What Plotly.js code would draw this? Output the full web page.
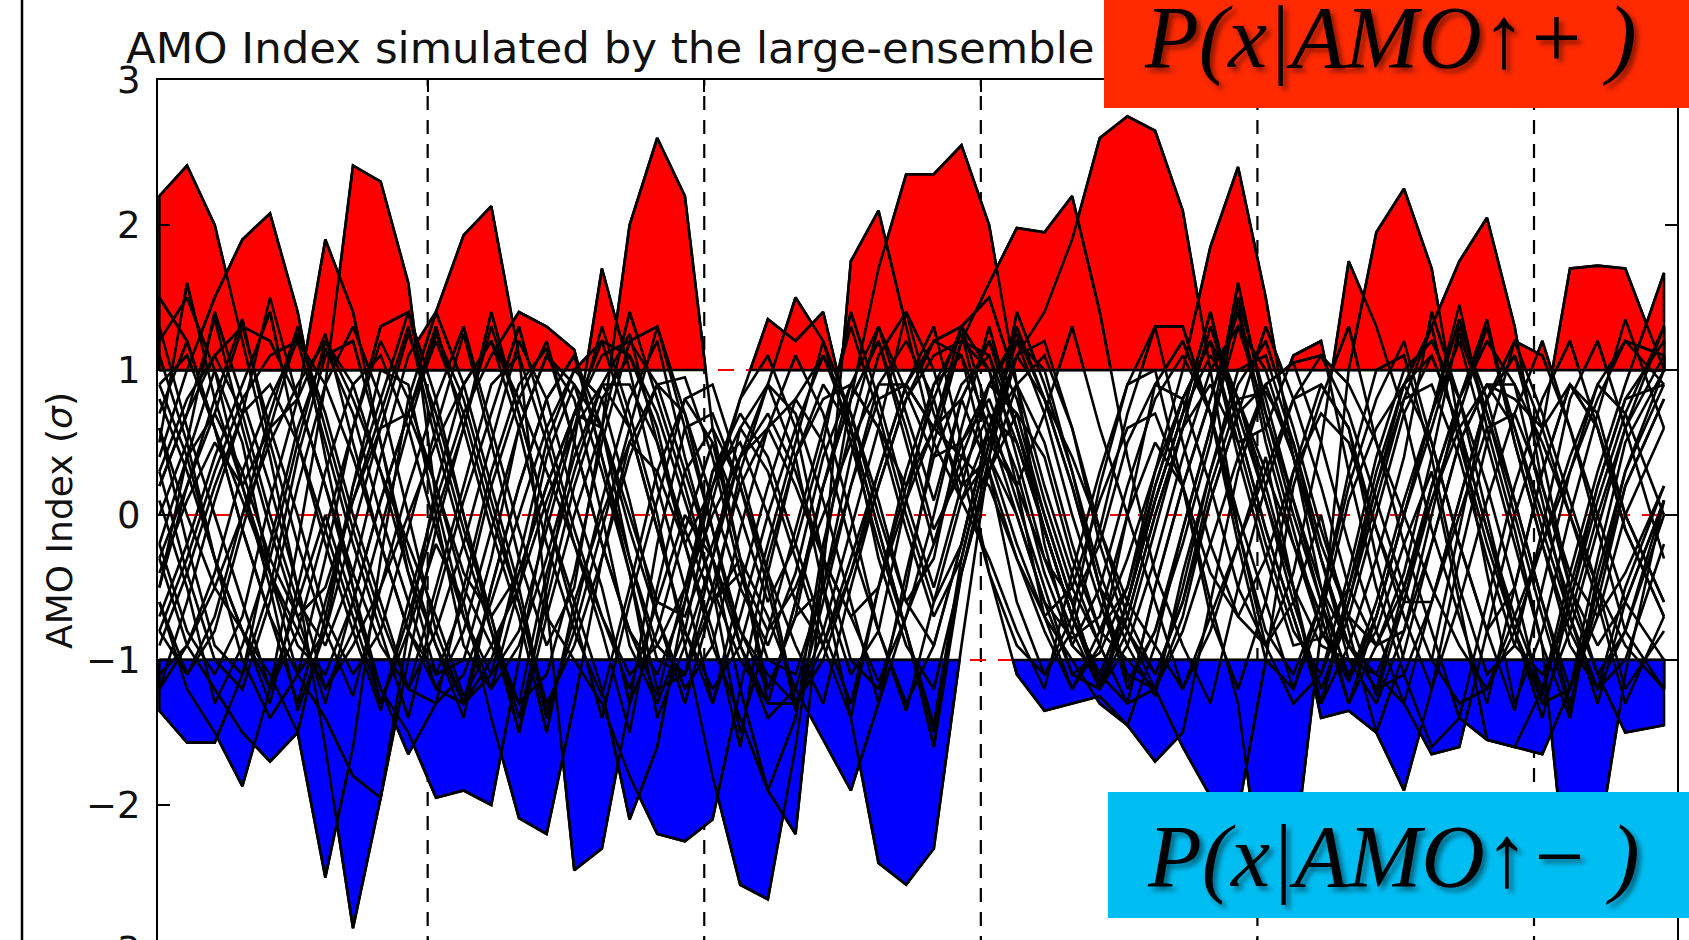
<!DOCTYPE html>
<html>
<head>
<meta charset="utf-8">
<script src="https://cdn.plot.ly/plotly-3.0.1.min.js"></script>
<style>
html,body{margin:0;padding:0;overflow:hidden;background:#fff;}
#wrap{width:1689px;height:940px;overflow:hidden;position:relative;}
#chart{width:1689px;height:1000px;}
</style>
</head>
<body>
<div id="wrap"><div id="chart"></div></div>
<script>
// Model years (x) and the ensemble members' AMO index (sigma units)
const years = [3,13,23,33,43,53,63,73,83,93,103,113,123,133,143,153,163,173,183,193,203,213,223,233,243,253,263,273,283,293,303,313,323,333,343,353,363,373,383,393,403,413,423,433,443,453,463,473,483,493,503,513,523,533,547];

const m01 = [2.2,2.41,2.0,1.2,0.4, -0.5,-1.6,-2.85,-1.95,-0.8, 0.2,0.9,1.2,0.6,-0.2, -0.8,-1.25,-0.5,0.3,0.8, 0.5,-0.3,-1.3,-0.6,0.2, 0.9,1.3,0.85,0.4,0.5, 0.8,0.3,-0.4,-0.9,-0.5, 0.2,0.8,1.1,0.7,0.0, -0.6,-1.2,-0.7,0.1,0.6, 0.9,0.5,-0.2,-0.8,-0.5, 0.3,0.9,0.6,-0.1,-0.7];
const m02 = [-0.6,-1.2,-1.5,-1.87,-1.2, -0.2,0.9,2.41,2.3,1.6, 0.1,-0.7,-1.2,-0.9,-0.3, 0.4,0.9,0.6,-0.1,-0.8, -1.2,-0.9,-0.2,0.5,1.2, 0.7,0.1,-0.6,-0.9,-0.2, 0.6,1.1,0.8,0.2,-0.5, -0.8,-1.2,-0.7,0.1,0.7, 0.9,0.4,-0.3,-0.9,-1.1, -0.6,0.2,0.8,1.35,0.5, -0.2,-0.9,-1.2,-0.8,0.0];
const m03 = [0.3,0.8,1.1,0.7,0.0, -0.6,-0.9,-0.4,0.4,1.1, 1.4,1.93,2.13,1.1,-0.6, -2.45,-2.3,-1.3,-0.2,0.6, 0.7,0.2,-0.5,-1.35,-0.6, 0.2,0.9,1.2,0.8,0.1, -0.3,-0.8,-1.2,-0.4,0.3, 0.9,1.3,0.5,-0.2,-0.7, -0.9,-0.4,0.5,1.75,1.3, 0.7,-0.1,-0.7,-1.3,-0.5, 0.3,0.9,0.7,0.0,-0.6];
const m04 = [-0.3,0.2,0.7,1.3,0.6, 0.0,-0.7,-1.1,-0.8,-0.1, 0.6,1.25,0.5,-0.3,-0.9, -0.5,0.6,2.0,2.6,2.2, 0.6,-0.3,-1.2,-0.7,-0.5, -1.4,-2.4,-2.55,-2.3,-0.9, 0.4,1.1,1.2,0.6,-0.2, -0.8,-1.1,-0.6,0.2,0.8, 0.85,0.5,-0.2,-0.7,-0.9, -0.4,0.4,1.3,0.8,0.1, -0.6,-1.3,-0.6,0.2,0.8];
const m05 = [0.9,0.4,-0.3,-0.8,-1.3, -0.5,0.3,0.9,1.1,0.6, -0.1,-0.7,-1.1,-0.8,-0.1, 0.6,1.3,0.7,0.0,-0.9, -1.8,-2.55,-2.65,-1.6,-0.3, 0.8,1.7,2.35,2.35,2.55, 2.0,0.9,-0.2,-0.9,-1.1, -0.6,0.2,0.8,1.2,0.4, -0.3,-0.9,-0.85,-0.5,0.3, 0.9,1.1,0.6,-0.1,-0.7, -1.2,-0.6,0.2,0.8,1.2];
const m06 = [-1.2,-0.6,0.1,0.7,1.5, 0.8,0.2,-0.5,-1.3,-0.8, -0.2,-0.6,-1.4,-2.09,-2.2, -1.3,-0.3,0.5,0.9,0.7, 0.1,-0.5,-0.9,-0.4,0.4, 0.9,0.6,-0.1,-0.7,-0.3, 0.5,1.1,1.4,1.9,2.6, 2.75,2.65,2.1,1.0,-0.1, -0.8,-1.1,-0.6,0.2,0.8, 1.2,0.5,-0.2,-0.8,-1.35, -0.5,0.3,0.9,0.7,0.0];
const m07 = [0.5,1.6,0.8,0.2,-0.5, -1.35,-0.8,-0.1,0.6,1.25, 0.7,0.0,-0.7,-1.4,-0.6, 0.2,0.8,1.1,0.6,-0.2, -0.8,-1.6,-0.4,0.4,0.9, 0.6,-0.1,-0.8,-1.5,-0.4, 0.3,0.7,0.4,-0.3,-0.8, -0.5,0.3,1.0,1.85,2.4, 1.5,0.4,-0.5,-1.15,-0.7, 0.0,0.7,1.45,0.6,-0.1, -0.9,-2.75,-2.3,-1.1,0.1];
const m08 = [-0.8,-1.1,-0.7,0.0,0.7, 1.3,0.6,-0.1,-0.7,-1.2, -0.5,0.2,0.9,1.1,0.5, -0.2,-0.8,-1.5,-0.5,0.3, 0.6,0.2,-0.4,-1.3,-0.8, -0.1,0.6,1.4,0.7,0.2, 0.4,0.0,-0.6,-0.85,-0.7, 0.0,0.5,0.2,-0.6,-1.3, -2.75,-2.4,-0.8,1.0,1.95, 2.25,1.7,0.6,-0.4,-1.3, -0.8,0.0,0.7,1.35,0.6];
const m09 = [0.1,-0.5,-1.3,-0.9,-0.3, 0.5,1.2,0.9,0.3,-0.4, -0.9,-1.4,-0.5,0.2,0.8, 1.1,0.4,-0.3,-0.9,-1.1, -0.6,0.3,0.9,1.5,1.2, 0.5,-0.2,-0.8,-1.6,-0.4, 0.3,0.9,1.1,0.6,-0.1, -0.7,-1.1,-0.6,0.1,0.7, 1.3,0.8,0.2,-0.5,-0.9, -0.8,-0.2,0.5,0.9,0.8, 0.6,1.7,1.72,1.7,1.0];
const m10 = [-1.35,-1.57,-1.57,-1.1,-0.2, 0.6,1.15,0.7,0.0,-0.6, -1.2,-0.8,-0.1,0.6,1.1, 0.9,0.3,-0.4,-1.4,-0.9, -0.3,0.4,0.9,0.7,0.1, -0.6,-1.3,-0.7,0.0,0.8, 1.2,0.6,-0.1,-0.7,-1.15, -0.7,0.0,0.6,0.9,0.5, -0.2,-0.8,-1.1,-0.6,0.2, 0.9,1.3,1.75,2.05,1.3, 0.2,-0.5,-0.9,-0.6,0.1];
const m11 = [0.4,1.0,1.5,1.9,2.08, 1.4,0.4,-0.5,-1.2,-1.5, -1.95,-1.9,-2.0,-1.0,0.0, 0.7,1.2,0.6,-0.1,-0.8, -1.3,-0.5,0.2,0.8,1.1, 0.6,-0.1,-0.8,-1.45,-0.3, 0.5,1.3,0.8,0.2,-0.5, -1.2,-0.8,-0.2,0.5,1.5, 0.8,0.1,-0.6,-1.1,-0.7, 0.0,0.7,1.2,0.5,-0.2, -0.9,-1.4,-0.4,0.3,0.9];
const m12 = [-0.5,0.2,0.8,1.35,0.5, -0.2,-0.8,-1.25,-0.5,0.2, 0.8,1.3,0.6,-0.1,-0.7, -1.0,-1.3,-1.8,-2.2,-2.25, -2.1,-1.2,-0.3,0.4,0.8, 0.9,0.6,0.2,0.6,1.2, 1.6,1.98,1.95,2.2,1.4, 0.4,-0.4,-0.9,-1.3,-0.5, 0.2,0.8,0.9,0.6,-0.1, -0.7,-1.2,-0.6,0.1,0.7, 1.2,0.6,-0.1,-0.8,-1.2];
const m13 = [1.3,0.6,0.0,-0.6,-1.2, -0.8,-0.1,0.6,1.2,0.8, 0.2,-0.5,-0.9,-1.3,-0.4, 0.3,0.9,1.25,0.5,-0.2, -0.9,-1.4,-1.9,-2.2,-0.4, 1.75,2.1,1.3,0.5,0.1, 0.4,-0.2,-0.7,-1.0,-1.3, -1.45,-1.7,-1.5,-0.6,0.3, 0.9,1.05,0.5,-0.2,-0.8, -1.3,-0.6,0.1,0.8,1.1, 0.6,0.0,-0.6,-1.3,-0.7];
const m14 = [-0.2,-0.8,-1.1,-0.7,0.1, 0.8,1.25,0.5,-0.2,-0.8, -1.1,-0.6,0.2,0.8,1.2, 0.5,-0.2,-0.8,-1.1,-0.6, 0.2,0.6,0.3,-0.3,-0.9, -1.4,-0.5,0.2,0.8,1.3, 0.7,0.1,-0.5,-1.1,-0.95, -0.5,0.2,0.8,1.2,0.5, 0.6,1.1,1.2,0.3,-0.5, -1.1,-1.6,-1.4,-1.55,-1.6, -1.2,-0.4,0.3,0.9,1.67];
const m15 = [0.6,0.0,-0.5,-0.8,-1.1, -1.5,-2.5,-1.6,-0.3,0.8, 1.4,0.9,0.2,-0.5,-1.35, -0.8,-0.1,0.6,1.3,0.6, -0.1,-0.8,-1.2,-0.7,0.2, 0.8,1.2,0.6,-0.1,0.3, 0.7,0.5,-0.1,-0.7,-1.2, -0.6,0.1,0.7,1.4,0.6, -0.1,-0.7,-1.3,-0.5,0.2, 0.8,0.9,0.4,-0.3,-0.9, -1.1,-0.7,0.0,0.6,1.3];
const m16 = [-0.7,-0.2,0.4,0.9,1.4, 0.5,-0.2,-0.8,-1.35,-0.6, 0.1,0.7,1.1,1.4,1.3, 1.14,0.4,-0.4,-1.2,-1.1, -0.5,0.2,0.6,0.8,0.5, -0.2,-0.8,-1.35,-0.6,0.1, 0.6,0.2,-0.3,-0.6,-0.2, 0.5,0.9,0.8,0.2,-0.5, -0.9,-0.6,0.0,-0.8,-1.5, -1.9,-1.2,-0.3,0.5,1.2, 0.7,0.1,-0.5,-1.2,-0.8];
const m17 = [0.2,0.7,1.35,0.6,-0.1, -0.7,-1.3,-0.6,0.1,0.7, 1.3,0.6,-0.1,-0.7,-1.5, -0.6,0.0,0.5,0.3,-0.2, 0.2,0.8,1.35,1.2,1.4, 0.6,-0.3,-0.9,-1.2,-0.4, 0.4,1.4,0.9,0.3,-0.4, -0.9,-1.25,-0.4,0.3,0.9, 1.2,0.6,-0.1,-0.7,-1.25, -0.6,0.1,0.7,1.3,0.5, -0.2,-0.8,-1.2,-0.5,0.2];
const m18 = [-0.4,0.1,0.5,0.2,0.6, 0.8,1.9,1.4,0.5,-0.3, -0.9,-1.3,-0.5,0.2,0.8, 1.1,0.6,-0.1,-0.7,-1.3, -0.6,-0.3,-0.7,-1.2,-1.55, -1.9,-1.3,-0.4,0.4,0.9, 1.1,0.6,0.0,-0.6,-1.2, -0.7,0.0,0.6,1.3,0.7, 0.1,-0.5,-0.9,-1.0,-1.1, -1.3,-1.65,-1.6,-0.8,0.0, 0.6,0.9,0.6,0.0,-0.6];
const m19 = [1.2,1.5,1.0,0.2,-0.4, -0.9,-1.1,-0.6,0.1,0.7, 1.2,0.7,0.0,-0.6,-1.3, -0.9,-0.3,0.4,0.9,0.95, 0.4,-0.4,-1.0,-1.1,-0.5, 0.2,0.8,0.9,0.6,1.3, 1.5,0.9,0.2,-0.4,-0.9, -1.3,-0.5,0.2,0.8,1.45, 0.6,-0.1,-0.8,-1.1,-0.8, -0.2,0.3,-0.6,-1.55,-1.6, -1.65,-1.2,-0.3,0.5,1.0];
const m20 = [-0.3,-0.9,-1.2,-1.5,-1.7, -1.5,-0.7,0.2,0.8,1.4, 0.6,-0.1,-0.7,-1.5,-0.7, 0.0,0.6,1.4,0.8,0.2, -0.5,-1.5,-0.8,-0.1,0.6, 1.3,0.7,0.0,-0.6,-0.2, 0.6,0.9,0.5,-0.2,-0.8, -1.0,-1.2,-1.6,-1.94,-2.05, -1.0,0.2,0.8,1.3,0.5, -0.2,-0.8,-1.4,-0.6,0.2, 0.8,1.2,0.6,-0.1,-0.7];
const m21 = [0.8,0.3,-0.3,-0.8,-1.2, -0.6,0.0,-0.6,-1.2,-1.65, -1.3,-0.5,0.3,0.9,1.15, 0.5,-0.2,-0.8,-1.25,-0.5, 0.3,0.7,0.4,-0.2,-0.8, -1.3,-0.5,0.3,0.9,1.25, 0.5,0.2,0.7,1.3,0.6, 0.0,-0.6,-1.2,-0.8,-0.2, 0.4,-0.5,-1.4,-1.35,-1.5, -0.95,-0.2,0.5,0.9,0.6, 0.0,-0.6,-1.1,-1.5,-1.45];
const m22 = [-0.9,-0.4,0.2,0.7,0.9, 0.5,-0.1,-0.7,-1.3,-0.7, 0.0,0.6,1.3,0.7,0.0, -0.6,-1.2,-2.1,-1.6,-0.6, 0.3,0.5,0.0,-0.6,-0.9, -0.4,0.3,0.9,1.3,0.5, -0.4,-1.1,-1.35,-1.3,-1.25, -1.45,-0.9,-0.1,0.6,1.3, 0.7,0.1,-0.5,-0.9,-1.2, -0.5,0.2,0.8,1.3,0.6, -0.1,-0.7,-1.3,-0.6,0.1];
const m23 = [1.5,1.2,0.6,-0.1,-0.7, -1.1,-1.4,-1.8,-1.95,-1.0, -0.1,0.6,1.4,0.7,0.0, -0.7,-1.4,-0.6,0.1,0.8, 0.9,0.3,-0.4,-0.9,-1.3, -0.5,0.2,0.8,1.1,1.2, 1.1,0.4,-0.3,-0.8,-1.2, -0.6,0.1,0.7,1.1,0.8, 0.2,-0.5,-1.3,-0.9,-0.3, 0.4,1.4,0.8,0.2,-0.5, -1.3,-0.8,-0.1,0.6,1.1];
const m24 = [-1.2,-0.9,-0.4,0.3,0.8, 1.2,0.5,-0.2,-0.8,-1.4, -0.6,0.1,0.7,1.3,0.6, -0.1,-0.7,-1.2,-0.6,0.0, -0.3,-1.2,-1.9,-1.4,-0.2, 0.6,1.3,0.7,0.1,0.8, 1.2,0.8,0.1,-0.5,-0.9, -1.3,-0.5,0.2,0.8,1.4, 0.5,-0.2,-0.8,-1.15,-0.6, 0.1,0.7,1.35,0.7,0.0, -0.7,-1.35,-0.5,0.2,0.8];
const m25 = [0.0,0.5,1.4,0.8,0.2, -0.5,-1.2,-0.8,-0.1,0.6, 1.25,0.8,0.1,-0.6,-1.4, -0.7,0.1,0.8,1.2,0.4, -0.3,-0.9,-1.3,-0.6,0.2, 0.8,1.2,0.5,-0.2,0.5, 0.9,0.7,0.0,-0.6,-1.2, -0.8,-0.1,0.6,1.3,0.8, 0.1,-0.6,-1.2,-0.7,0.0, 0.7,1.1,0.6,-0.1,-0.8, -1.25,-0.5,0.2,0.8,0.9];
const m26 = [-0.6,-1.1,-0.8,-0.1,0.6, 1.25,0.7,0.0,-0.6,-1.2, -0.8,-0.2,0.5,1.2,0.8, 0.1,-0.5,-1.3,-0.8,-0.1, 0.5,0.0,-0.6,-0.2,0.5, 1.4,0.8,0.1,-0.5,0.2, 0.9,1.2,0.7,0.0,-0.6, -1.15,-0.8,-0.1,0.6,1.6, 0.7,0.0,-0.6,-1.3,-0.7, 0.0,0.6,1.25,0.7,0.1, -0.6,-1.2,-0.7,0.0,0.6];
const m27 = [0.7,1.2,0.6,-0.1,-0.7, -1.3,-0.6,0.1,0.7,1.3, 0.5,-0.2,-0.8,-1.5,-0.5, 0.5,1.7,1.0,0.2,-0.5, -1.3,-0.7,0.0,0.6,1.1, 0.7,0.0,-0.6,-0.3,0.6, 1.3,0.6,-0.1,-0.7,-1.1, -0.6,0.1,0.7,1.4,0.6, -0.1,-0.7,-1.3,-0.6,0.1, 0.8,1.3,0.5,-0.2,-0.8, -1.4,-0.6,0.1,0.7,1.3];
const m28 = [0.9,1.1,0.6,0.1,-0.4, -0.8,-1.2,-0.9,-0.5,0.0, 0.5,0.9,1.2,0.8,0.3, -0.2,-0.7,-1.1,-0.9,-0.5, 0.0,0.4,0.6,0.2,-0.3, -0.7,-1.15,-0.7,-0.2,0.4, 0.9,1.25,0.8,0.4,-0.1, -0.6,-0.9,-1.2,-0.7,-0.2, 0.3,0.8,1.1,0.9,0.5, 0.0,-0.5,-0.9,-1.2,-0.7, -0.2,0.3,0.8,1.2,0.9];
const m29 = [-0.2,0.4,0.7,0.3,-0.3, -0.7,-0.5,0.1,0.6,0.7, 0.2,-0.4,-0.7,-0.4,0.2, 0.7,0.6,0.0,-0.6,-0.7, -0.2,0.4,0.7,0.3,-0.3, -0.7,-0.5,0.1,0.6,0.8, 0.3,-0.3,-0.7,-0.5,0.1, 0.6,0.7,0.2,-0.4,-0.7, -0.3,0.3,0.7,0.5,-0.1, -0.6,-0.6,0.0,0.6,0.7, 0.2,-0.4,-0.7,-0.4,0.2];
const m30 = [-1.1,-0.9,-0.5,0.0,0.5, 0.9,1.2,0.8,0.3,-0.2, -0.7,-1.25,-0.9,-0.5,0.1, 0.6,0.9,0.9,0.5,-0.1, -0.6,-0.4,-0.8,-0.5,0.0, 0.5,0.9,0.9,0.6,0.4, 0.2,-0.3,-0.8,-1.2,-0.8, -0.3,0.3,0.8,1.2,0.8, 0.3,-0.2,-0.7,-1.3,-0.9, -0.5,0.1,0.6,0.9,0.9, 0.5,0.0,-0.5,-0.9,-1.2];
const m31 = [0.3,-0.4,-1.0,-1.2,-0.6, 0.2,0.9,1.3,0.8,0.0, -0.8,-1.3,-1.1,-0.3,0.5, 1.0,0.8,0.1,-0.7,-1.2, -0.9,-0.1,0.6,1.1,0.7, 0.0,-0.8,-1.3,-0.9,-0.2, 0.6,1.2,1.0,0.3,-0.5, -1.1,-1.2,-0.5,0.3,1.0, 1.1,0.5,-0.3,-1.0,-1.3, -0.8,0.0,0.8,1.2,0.9, 0.1,-0.7,-1.2,-1.0,-0.2];
const m32 = [-0.8,-0.3,0.3,0.8,1.1, 1.2,0.9,0.4,-0.2,-0.8, -1.2,-1.3,-1.0,-0.4,0.2, 0.7,1.1,1.2,0.9,0.3, -0.3,-0.8,-1.1,-1.3,-0.9, -0.3,0.3,0.9,1.2,1.1, 0.6,0.0,-0.6,-1.1,-1.2, -0.9,-0.3,0.4,1.0,1.3, 1.0,0.4,-0.3,-0.9,-1.2, -1.1,-0.6,0.1,0.8,1.2, 1.1,0.6,0.0,-0.6,-1.0];
const m33 = [-0.5,0.4,1.0,0.5,-0.4, -1.1,-0.8,0.2,1.0,0.9, 0.0,-0.9,-1.2,-0.5,0.4, 0.9,0.6,-0.3,-1.0,-1.1, -0.3,0.6,0.9,0.4,-0.5, -1.1,-0.8,0.1,0.9,1.1, 0.3,-0.6,-1.1,-0.7,0.2, 0.9,1.0,0.2,-0.7,-1.2, -0.6,0.3,0.9,0.6,-0.3, -1.0,-1.0,-0.1,0.8,1.1, 0.4,-0.5,-1.1,-0.8,0.1];
const m34 = [1.1,0.5,-0.3,-1.0,-1.4, -1.1,-0.3,0.6,1.3,1.4, 0.8,0.0,-0.8,-1.3,-1.1, -0.4,0.5,1.2,1.3,0.7, -0.1,-0.9,-1.4,-1.2,-0.5, 0.4,1.1,1.4,1.0,0.3, -0.4,-0.9,-1.1,-0.8,-0.1, 0.7,1.3,1.3,0.7,-0.1, -0.9,-1.3,-1.1,-0.4,0.4, 1.0,1.2,0.8,0.0,-0.8, -1.3,-1.2,-0.5,0.3,1.0];
const m35 = [0.2,0.7,1.1,1.3,1.2, 0.8,0.2,-0.4,-0.9,-1.2, -1.3,-1.1,-0.6,0.0,0.6, 1.0,1.2,1.1,0.7,0.1, -0.5,-1.0,-1.3,-1.3,-1.0, -0.4,0.2,0.8,1.2,1.3, 1.0,0.5,-0.1,-0.7,-1.1, -1.3,-1.2,-0.8,-0.2,0.4, 0.9,1.05,1.1,0.7,0.1, -0.5,-1.0,-1.3,-1.2,-0.8, -0.2,0.4,0.9,1.2,1.1];
const m36 = [0.6,-0.2,-0.9,-1.1,-0.5, 0.4,1.1,1.2,0.5,-0.4, -1.1,-1.0,-0.3,0.6,1.1, 0.8,0.0,-0.9,-1.3,-0.8, 0.1,0.8,1.1,0.6,-0.3, -1.0,-1.2,-0.5,0.5,1.2, 1.0,0.2,-0.7,-1.2,-0.9, 0.0,0.9,1.2,0.7,-0.2, -1.0,-1.2,-0.6,0.3,1.0, 1.1,0.4,-0.5,-1.1,-0.9, -0.1,0.8,1.2,0.6,-0.3];

const members = [m01,m02,m03,m04,m05,m06,m07,m08,m09,m10,m11,m12,m13,m14,m15,m16,m17,m18,
                 m19,m20,m21,m22,m23,m24,m25,m26,m27,m28,m29,m30,m31,m32,m33,m34,m35,m36];

const yTicks = [-3,-2,-1,0,1,2,3];
const xTicks = [100,200,300,400,500];

const titleText = 'AMO Index simulated by the large-ensemble';
const yTitleText = 'AMO Index (<i>σ</i>)';
const plusLabel = 'P(x|AMO↑+ )';
const minusLabel = 'P(x|AMO↑− )';

// ---- geometry helpers (pixel -> paper) ----
const L = 158, R = 1677, T = 80, B = 950, HH = 1000;
const px = x => (x - L) / (R - L);
const py = y => (B - y) / (B - T);

// fill_between(where=...) style polygons
function excursions(xs, ys, thr, sgn) {
  const X = [], Y = [];
  let cur = null;
  const cross = i => xs[i-1] + (thr - ys[i-1]) / (ys[i] - ys[i-1]) * (xs[i] - xs[i-1]);
  const flush = () => {
    cur.push(cur[0]);
    cur.forEach(p => { X.push(p[0]); Y.push(p[1]); });
    X.push(null); Y.push(null);
    cur = null;
  };
  for (let i = 0; i < ys.length; i++) {
    const out = sgn * (ys[i] - thr) > 0;
    if (out) {
      if (!cur) { cur = [[i > 0 ? cross(i) : xs[0], thr]]; }
      cur.push([xs[i], ys[i]]);
    } else if (cur) {
      cur.push([cross(i), thr]);
      flush();
    }
  }
  if (cur) { cur.push([xs[xs.length-1], thr]); flush(); }
  return {X, Y};
}

const LW = 2.6;
const traces = [];
members.forEach(m => {
  const up = excursions(years, m, 1, 1);
  if (up.X.length) traces.push({type:'scatter', mode:'lines', x:up.X, y:up.Y, fill:'toself',
    fillcolor:'#ff0000', line:{color:'#000', width:LW}, hoverinfo:'skip', showlegend:false});
  const dn = excursions(years, m, -1, -1);
  if (dn.X.length) traces.push({type:'scatter', mode:'lines', x:dn.X, y:dn.Y, fill:'toself',
    fillcolor:'#0000ff', line:{color:'#000', width:LW}, hoverinfo:'skip', showlegend:false});
});
members.forEach(m => {
  traces.push({type:'scatter', mode:'lines', x:years, y:m, line:{color:'#000', width:LW},
    hoverinfo:'skip', showlegend:false});
});

const shapes = [];
xTicks.forEach(v => shapes.push({type:'line', xref:'x', yref:'paper', x0:v, x1:v, y0:0, y1:1,
  line:{color:'#000', width:2.2, dash:'14px,10px'}, layer:'below'}));
[1,0,-1].forEach(v => shapes.push({type:'line', xref:'paper', yref:'y', x0:0, x1:1, y0:v, y1:v,
  line:{color:'#ff0000', width:2, dash:'16px,12px'}, layer:'below'}));
// slide decorations
shapes.push({type:'line', xref:'paper', yref:'paper', x0:px(22), x1:px(22), y0:py(0), y1:py(HH),
  line:{color:'#000', width:2.5}});
shapes.push({type:'rect', xref:'paper', yref:'paper', x0:px(1104), x1:px(1695), y0:py(108), y1:py(-5),
  fillcolor:'#ff2a00', line:{width:0}});
shapes.push({type:'rect', xref:'paper', yref:'paper', x0:px(1108), x1:px(1695), y0:py(918), y1:py(792),
  fillcolor:'#00bdf2', line:{width:0}});

const axFont = {family:'DejaVu Sans, Verdana, sans-serif', size:37, color:'#111'};
const boxFont = {family:'Liberation Serif, DejaVu Serif, serif', size:88, color:'#000', style:'italic',
  shadow:'4px 4px 5px rgba(0,0,0,0.45)'};

const annotations = [
  {text:titleText, xref:'paper', yref:'paper', x:px(124), y:py(48), xanchor:'left', yanchor:'middle',
    showarrow:false, font:{family:'DejaVu Sans, Verdana, sans-serif', size:43.5, color:'#111'}},
  {text:yTitleText, xref:'paper', yref:'paper', x:px(59), y:py(521), xanchor:'center', yanchor:'middle',
    textangle:-90, showarrow:false, font:{family:'DejaVu Sans, Verdana, sans-serif', size:36, color:'#111'}},
  {text:plusLabel, xref:'paper', yref:'paper', x:px(1390), y:py(38), xanchor:'center', yanchor:'middle',
    showarrow:false, font:boxFont},
  {text:minusLabel, xref:'paper', yref:'paper', x:px(1393), y:py(856), xanchor:'center', yanchor:'middle',
    showarrow:false, font:boxFont}
];

const layout = {
  width:1689, height:HH,
  margin:{l:L, r:1689-R, t:T, b:HH-B, pad:0},
  paper_bgcolor:'#fff', plot_bgcolor:'#fff',
  showlegend:false, hovermode:false,
  xaxis:{range:[2.5,551.7], tickvals:xTicks, ticktext:xTicks.map(String), ticks:'inside', ticklen:12,
    tickwidth:2, tickcolor:'#000', showline:true, linecolor:'#000', linewidth:2, mirror:'ticks',
    showgrid:false, zeroline:false, tickfont:axFont},
  yaxis:{range:[-3,3], tickvals:yTicks, ticktext:yTicks.map(v => v < 0 ? '\u2212' + Math.abs(v) : String(v)),
    ticks:'inside', ticklen:12, tickwidth:2, tickcolor:'#000', showline:true, linecolor:'#000',
    linewidth:2, mirror:'ticks', showgrid:false, zeroline:false, tickfont:axFont, ticklabelstandoff:8},
  shapes:shapes,
  annotations:annotations
};

Plotly.newPlot('chart', traces, layout, {staticPlot:true, displayModeBar:false});
</script>
</body>
</html>
